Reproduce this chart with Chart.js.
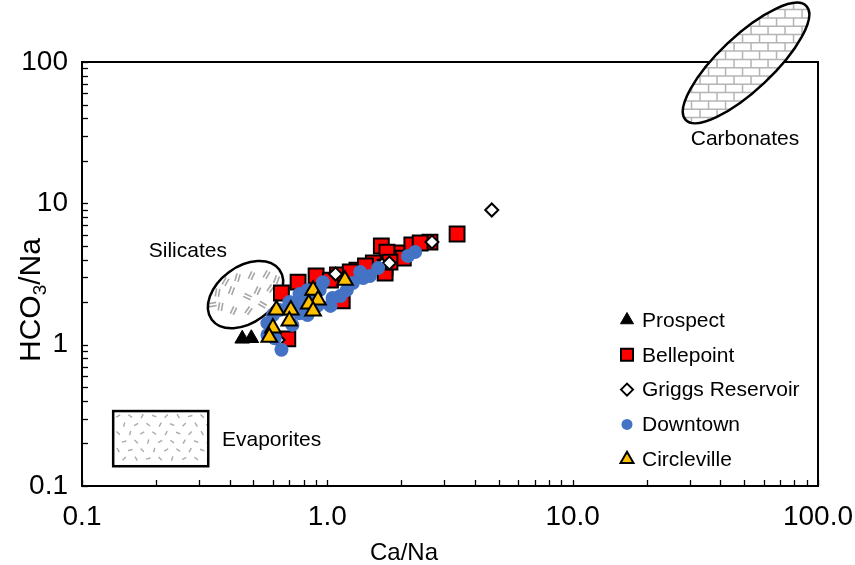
<!DOCTYPE html>
<html>
<head>
<meta charset="utf-8">
<script src="https://cdn.jsdelivr.net/npm/chart.js@4.4.0/dist/chart.umd.min.js"></script>
<style>
  html, body { margin: 0; padding: 0; background: #fff; }
  #wrap { width: 855px; height: 565px; }
</style>
</head>
<body>
<div id="wrap"><canvas id="chart" width="855" height="565"></canvas></div>
<script>
const FONT = '"Liberation Sans", Arial, Helvetica, sans-serif';

// Axis decades that carry a label
const xLabelValues = [0.1, 1, 10, 100];
const yLabelValues = [0.1, 1, 10, 100];

// Molar ratios by sampling site
const prospectCaNa   = [0.45, 0.49];
const prospectHco3Na = [1.10, 1.11];

const bellepointCaNa   = [3.38, 2.62, 2.21, 1.66, 1.92, 1.75, 2.04, 1.54, 1.72, 1.72, 1.32, 1.10, 0.90, 0.76, 0.65, 1.15, 0.69, 1.80, 1.43, 1.24, 2.39, 1.03];
const bellepointHco3Na = [6.07, 5.32, 5.07, 4.99, 4.45, 4.52, 4.10, 3.78, 3.54, 3.21, 3.37, 3.11, 3.06, 2.77, 2.32, 2.04, 1.10, 3.84, 3.60, 3.27, 5.24, 2.86];

const griggsCaNa   = [4.68, 2.67, 1.67, 1.79, 1.08, 0.63];
const griggsHco3Na = [8.97, 5.32, 3.66, 3.78, 3.16, 1.08];

const downtownCaNa   = [2.28, 2.13, 1.49, 1.40, 1.36, 1.27, 1.20, 1.13, 1.05, 0.96, 0.93, 0.83, 0.77, 1.03, 0.91, 0.85, 0.77, 0.70, 0.64, 0.60, 0.57, 0.57, 0.61, 0.65, 0.72, 0.77, 0.83, 1.61];
const downtownHco3Na = [4.52, 4.24, 3.06, 2.96, 3.27, 2.73, 2.43, 2.21, 2.14, 2.77, 2.43, 2.43, 2.28, 1.88, 1.88, 2.24, 1.97, 2.00, 1.76, 1.62, 1.42, 1.17, 1.11, 0.92, 1.38, 1.67, 1.62, 3.48];

const circlevilleCaNa   = [1.18, 0.875, 0.916, 0.84, 0.875, 0.71, 0.62, 0.70, 0.60, 0.58];
const circlevilleHco3Na = [2.86, 2.43, 2.07, 1.94, 1.73, 1.76, 1.76, 1.47, 1.31, 1.13];

// Reference fields (data coordinates)
const silicatesCenter  = [0.464, 2.26];
const carbonatesCenter = [50.9, 98.4];
const evaporitesBox    = [0.134, 0.339, 0.327, 0.138];   // x1, yTop, x2, yBottom
const fieldLabels = [
  { text: 'Silicates',  x: 0.270, y: 4.6,   align: 'center' },
  { text: 'Carbonates', x: 50.4,  y: 28.5,  align: 'center' },
  { text: 'Evaporites', x: 0.372, y: 0.211, align: 'left' }
];

const pts = (xs, ys) => xs.map((v, i) => ({ x: v, y: ys[i] }));

function logTicks(scale) {
  const t = [];
  for (let e = -1; e <= 1; e++) for (let k = 1; k <= 9; k++) t.push({ value: +(k * Math.pow(10, e)).toPrecision(3) });
  t.push({ value: 100 });
  scale.ticks = t;
}

// Grey "double dash" marks inside the silicates ellipse: [dx, dy, angleDeg]
const silicateMarks = [
  [-8, -17, 75], [6, -19, 65], [21, -20, 60], [-28, -2, 80], [-14, -4, 70], [2, 2, -25],
  [12, -4, 65], [25, -6, 55], [-25, 12, 80], [-12, 16, 65], [3, 16, 55], [17, 10, -30],
  [-33, 10, 10], [31, -15, 70], [-20, -13, 60]
];
const evapAngles = [30, -35, 60, -20, 45, -60, 15, -45, 75];

const fieldsPlugin = {
  id: 'fields',
  beforeDatasetsDraw(chart) {
    const { ctx, chartArea: a, scales: { x, y } } = chart;
    ctx.save();
    // inside tick marks on left and bottom axes
    ctx.strokeStyle = '#000';
    ctx.lineWidth = 1.3;
    x.ticks.forEach(t => {
      const px = Math.round(x.getPixelForValue(t.value)) + 0.5;
      ctx.beginPath(); ctx.moveTo(px, a.bottom); ctx.lineTo(px, a.bottom - 6); ctx.stroke();
    });
    y.ticks.forEach(t => {
      const py = Math.round(y.getPixelForValue(t.value)) + 0.5;
      ctx.beginPath(); ctx.moveTo(a.left, py); ctx.lineTo(a.left + 6, py); ctx.stroke();
    });
    // plot frame
    ctx.lineWidth = 2;
    ctx.strokeRect(a.left, a.top, a.right - a.left, a.bottom - a.top);

    // Silicates field
    const sx = x.getPixelForValue(silicatesCenter[0]);
    const sy = y.getPixelForValue(silicatesCenter[1]);
    ctx.save();
    ctx.beginPath();
    ctx.ellipse(sx, sy, 42, 28, -36.6 * Math.PI / 180, 0, Math.PI * 2);
    ctx.fillStyle = '#fff';
    ctx.fill();
    ctx.clip();
    ctx.strokeStyle = 'rgba(150,150,150,0.85)';
    ctx.lineWidth = 1.6;
    silicateMarks.forEach(([dx, dy, ang]) => {
      const r = ang * Math.PI / 180;
      const ux = Math.cos(r), uy = -Math.sin(r);
      const nx = -uy, ny = ux;
      [-1.6, 1.6].forEach(o => {
        ctx.beginPath();
        ctx.moveTo(sx + dx + nx * o - ux * 4, sy + dy + ny * o - uy * 4);
        ctx.lineTo(sx + dx + nx * o + ux * 4, sy + dy + ny * o + uy * 4);
        ctx.stroke();
      });
    });
    ctx.restore();
    ctx.beginPath();
    ctx.ellipse(sx, sy, 42, 28, -36.6 * Math.PI / 180, 0, Math.PI * 2);
    ctx.strokeStyle = '#000';
    ctx.lineWidth = 2.5;
    ctx.stroke();

    // Carbonates field (brick fill)
    const cx = x.getPixelForValue(carbonatesCenter[0]);
    const cy = y.getPixelForValue(carbonatesCenter[1]);
    ctx.save();
    ctx.beginPath();
    ctx.ellipse(cx, cy, 83, 27, -43.3 * Math.PI / 180, 0, Math.PI * 2);
    ctx.fillStyle = '#fff';
    ctx.fill();
    ctx.clip();
    ctx.strokeStyle = '#b4b4b4';
    ctx.lineWidth = 1.5;
    const bw = 17, bh = 8.3;
    let row = 0;
    for (let yy = cy - 70; yy < cy + 70; yy += bh, row++) {
      ctx.beginPath(); ctx.moveTo(cx - 80, yy); ctx.lineTo(cx + 80, yy); ctx.stroke();
      const off = (row % 2) ? bw / 2 : 0;
      for (let xx = cx - 80 + off; xx < cx + 80; xx += bw) {
        ctx.beginPath(); ctx.moveTo(xx, yy); ctx.lineTo(xx, yy + bh); ctx.stroke();
      }
    }
    ctx.restore();
    ctx.beginPath();
    ctx.ellipse(cx, cy, 83, 27, -43.3 * Math.PI / 180, 0, Math.PI * 2);
    ctx.strokeStyle = '#000';
    ctx.lineWidth = 2.5;
    ctx.stroke();

    // Evaporites field (speckled box)
    const ex1 = x.getPixelForValue(evaporitesBox[0]);
    const ey1 = y.getPixelForValue(evaporitesBox[1]);
    const ex2 = x.getPixelForValue(evaporitesBox[2]);
    const ey2 = y.getPixelForValue(evaporitesBox[3]);
    ctx.fillStyle = '#fff';
    ctx.fillRect(ex1, ey1, ex2 - ex1, ey2 - ey1);
    ctx.save();
    ctx.beginPath(); ctx.rect(ex1, ey1, ex2 - ex1, ey2 - ey1); ctx.clip();
    ctx.strokeStyle = 'rgba(150,150,150,0.8)';
    ctx.lineWidth = 1.4;
    let n = 0;
    for (let yy = ey1 + 5, r = 0; yy < ey2; yy += 8.5, r++) {
      for (let xx = ex1 + 5 + (r % 2) * 6; xx < ex2; xx += 12, n++) {
        const ang = evapAngles[n % evapAngles.length] * Math.PI / 180;
        const ux = Math.cos(ang) * 2.3, uy = -Math.sin(ang) * 2.3;
        ctx.beginPath(); ctx.moveTo(xx - ux, yy - uy); ctx.lineTo(xx + ux, yy + uy); ctx.stroke();
      }
    }
    ctx.restore();
    ctx.strokeStyle = '#000';
    ctx.lineWidth = 2.5;
    ctx.strokeRect(ex1, ey1, ex2 - ex1, ey2 - ey1);

    // Field names
    ctx.fillStyle = '#000';
    ctx.font = '21px ' + FONT;
    ctx.textBaseline = 'middle';
    fieldLabels.forEach(l => {
      ctx.textAlign = l.align;
      ctx.fillText(l.text, x.getPixelForValue(l.x), y.getPixelForValue(l.y));
    });
    ctx.restore();
  },
  afterDraw(chart) {
    const { ctx, chartArea: a } = chart;
    ctx.save();
    // Legend inside the plot
    const lx = a.right - 191, ly0 = a.top + 258, step = 34.8;
    chart.data.datasets.forEach((ds, i) => {
      const yy = ly0 + i * step;
      ctx.fillStyle = ds.backgroundColor;
      ctx.strokeStyle = ds.borderColor || ds.backgroundColor;
      ctx.lineWidth = ds.legendBorder;
      Chart.helpers.drawPoint(ctx, { pointStyle: ds.pointStyle, radius: ds.legendRadius, rotation: 0, borderWidth: ds.legendBorder }, lx, yy);
      ctx.fillStyle = '#000';
      ctx.font = '21px ' + FONT;
      ctx.textAlign = 'left';
      ctx.textBaseline = 'middle';
      ctx.fillText(ds.label, lx + 15, yy + 1);
    });

    // Axis titles
    ctx.fillStyle = '#000';
    ctx.font = '24px ' + FONT;
    ctx.textAlign = 'center';
    ctx.textBaseline = 'alphabetic';
    ctx.fillText('Ca/Na', a.left + 322, a.bottom + 74);

    ctx.translate(a.left - 42, a.top + 238);
    ctx.rotate(-Math.PI / 2);
    const big = '30px ' + FONT, small = '19px ' + FONT;
    ctx.font = big; const w1 = ctx.measureText('HCO').width, w3 = ctx.measureText('/Na').width;
    ctx.font = small; const w2 = ctx.measureText('3').width;
    let sx = -(w1 + w2 + w3) / 2;
    ctx.textAlign = 'left';
    ctx.font = big; ctx.fillText('HCO', sx, 0); sx += w1;
    ctx.font = small; ctx.fillText('3', sx, 6); sx += w2;
    ctx.font = big; ctx.fillText('/Na', sx, 0);
    ctx.restore();
  }
};

const tickLabelX = v => xLabelValues.includes(v) ? (v === 0.1 ? '0.1' : v.toFixed(1)) : '';
const tickLabelY = v => yLabelValues.includes(v) ? String(v) : '';

new Chart(document.getElementById('chart'), {
  type: 'scatter',
  data: {
    datasets: [
      { label: 'Prospect', data: pts(prospectCaNa, prospectHco3Na), pointStyle: 'triangle', pointRadius: 8.5,
        backgroundColor: '#000', borderColor: '#000', borderWidth: 1, order: 5, legendRadius: 7.5, legendBorder: 1 },
      { label: 'Bellepoint', data: pts(bellepointCaNa, bellepointHco3Na), pointStyle: 'rect', pointRadius: 10.5,
        backgroundColor: '#FF0000', borderColor: '#000', borderWidth: 2, order: 4, legendRadius: 8.5, legendBorder: 2 },
      { label: 'Griggs Reservoir', data: pts(griggsCaNa, griggsHco3Na), pointStyle: 'rectRot', pointRadius: 6.5,
        backgroundColor: '#fff', borderColor: '#000', borderWidth: 2, order: 3, legendRadius: 6, legendBorder: 2 },
      { label: 'Downtown', data: pts(downtownCaNa, downtownHco3Na), pointStyle: 'circle', pointRadius: 7,
        backgroundColor: '#4472C4', borderColor: '#4472C4', borderWidth: 0, order: 2, legendRadius: 5.5, legendBorder: 0 },
      { label: 'Circleville', data: pts(circlevilleCaNa, circlevilleHco3Na), pointStyle: 'triangle', pointRadius: 9,
        backgroundColor: '#FFC000', borderColor: '#000', borderWidth: 2, order: 1, legendRadius: 7.5, legendBorder: 2 }
    ]
  },
  options: {
    responsive: false,
    animation: false,
    devicePixelRatio: 1,
    layout: { padding: { top: 62, right: 37, left: 0, bottom: 0 } },
    plugins: { legend: { display: false }, tooltip: { enabled: false } },
    elements: { point: { hoverRadius: 0 } },
    scales: {
      x: {
        type: 'logarithmic', position: 'bottom', min: 0.1, max: 100,
        afterBuildTicks: logTicks,
        afterFit: s => { s.height = 79; s.paddingLeft = 0; s.paddingRight = 0; },
        grid: { display: false, drawTicks: false },
        border: { display: false },
        ticks: { autoSkip: false, maxRotation: 0, padding: 14, color: '#000',
                 font: { family: FONT, size: 28 }, callback: tickLabelX }
      },
      y: {
        type: 'logarithmic', position: 'left', min: 0.1, max: 100,
        afterBuildTicks: logTicks,
        afterFit: s => { s.width = 82; s.paddingTop = 0; s.paddingBottom = 0; },
        grid: { display: false, drawTicks: false },
        border: { display: false },
        ticks: { autoSkip: false, padding: 14, color: '#000',
                 font: { family: FONT, size: 28 }, callback: tickLabelY }
      }
    }
  },
  plugins: [fieldsPlugin]
});
</script>
</body>
</html>
